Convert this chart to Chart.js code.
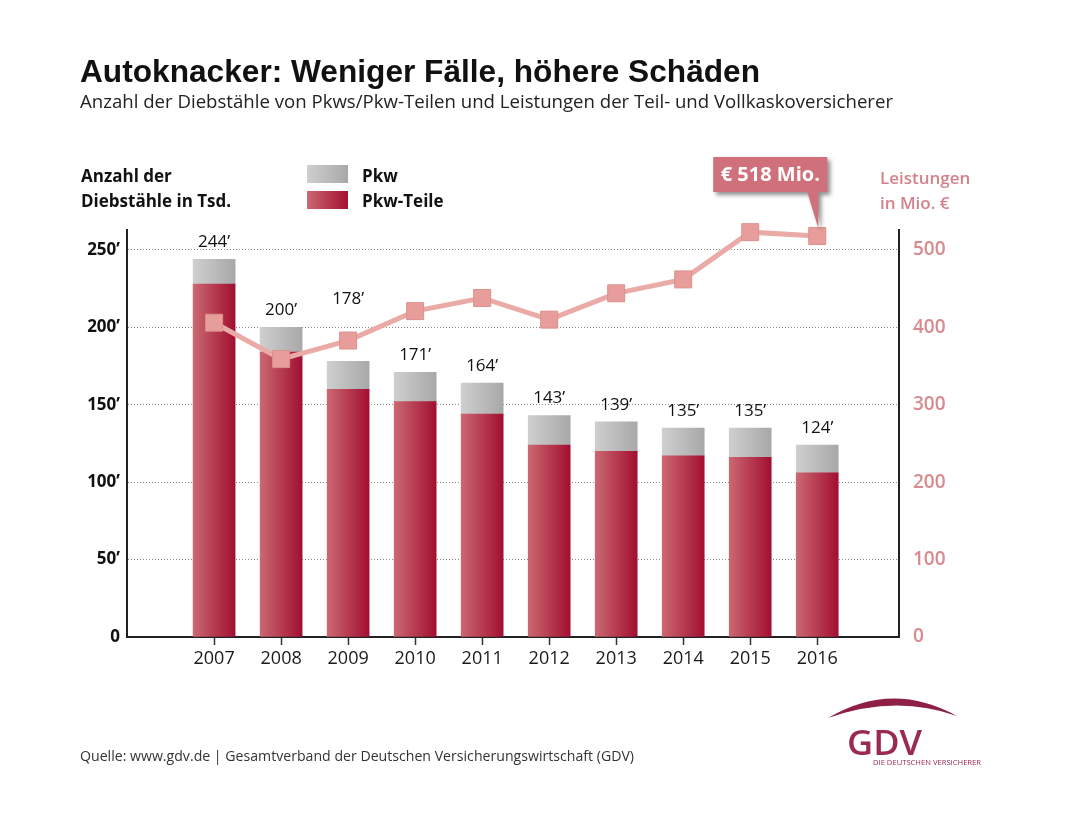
<!DOCTYPE html>
<html lang="de">
<head>
<meta charset="utf-8">
<script src="https://cdn.jsdelivr.net/npm/chart.js@4.4.1/dist/chart.umd.min.js"></script>
<style>
html,body{margin:0;padding:0;background:#fff;}
#wrap{position:relative;width:1068px;height:815px;overflow:hidden;font-family:"Open Sans",sans-serif;}
#c{position:absolute;left:0;top:0;}
.t{position:absolute;white-space:nowrap;transform-origin:0 0;}
.sw{position:absolute;width:41px;height:18px;}
</style>
</head>
<body>
<div id="wrap">
<canvas id="c" width="1068" height="815"></canvas>

<div class="t fit" data-w="680" style="left:80px;top:53px;font:bold 31.5px/36px 'Liberation Sans',Arial,sans-serif;color:#111;">Autoknacker: Weniger Fälle, höhere Schäden</div>
<div class="t fit" data-w="813" style="left:80px;top:89px;font:18px/24px 'Open Sans',sans-serif;color:#222;">Anzahl der Diebstähle von Pkws/Pkw-Teilen und Leistungen der Teil- und Vollkaskoversicherer</div>

<div class="t" style="left:81px;top:163px;font:bold 17px/25px 'Open Sans',sans-serif;color:#111;">Anzahl der<br>Diebstähle in Tsd.</div>

<div class="sw" style="left:307px;top:165px;background:linear-gradient(to right,#cfcfcf,#a8a8a8);"></div>
<div class="sw" style="left:307px;top:191px;background:linear-gradient(to right,#cb6871,#a20f31);"></div>
<div class="t" style="left:362px;top:163px;font:bold 17px/25px 'Open Sans',sans-serif;color:#111;">Pkw<br>Pkw-Teile</div>

<div class="t" style="left:880px;top:165px;font:600 17px/25px 'Open Sans',sans-serif;color:#d4828a;">Leistungen<br>in Mio. €</div>

<div class="t fit" data-w="554" style="left:80px;top:746px;font:14px/20px 'Open Sans',sans-serif;color:#333;">Quelle: www.gdv.de | Gesamtverband der Deutschen Versicherungswirtschaft (GDV)</div>

<svg style="position:absolute;left:0;top:0;" width="1068" height="815">
  <path d="M828,718 Q892,680 957,716 Q896,694 828,718 Z" fill="#8e1f45"/>
  <text x="847" y="755" font-family="Open Sans" font-weight="600" font-size="35" fill="#9a2a4f" textLength="75" lengthAdjust="spacingAndGlyphs">GDV</text>
  <text x="873" y="765" font-family="Open Sans" font-size="7.5" fill="#9a2a4f" textLength="108" lengthAdjust="spacingAndGlyphs">DIE DEUTSCHEN VERSICHERER</text>
</svg>
</div>

<script>
const years = [2007, 2008, 2009, 2010, 2011, 2012, 2013, 2014, 2015, 2016];
const pkwTeile = [228, 184, 160, 152, 144, 124, 120, 117, 116, 106];
const pkw = [16, 16, 18, 19, 20, 19, 19, 18, 19, 18];
const leistungen = [406, 359, 383, 421, 438, 410, 444, 462, 523, 518];
const leftTicks = [0, 50, 100, 150, 200, 250];
const rightTicks = [0, 100, 200, 300, 400, 500];
const calloutText = '€ 518 Mio.';

function barGrad(c0, c1) {
  return (ctx) => {
    const chart = ctx.chart;
    if (ctx.type !== 'data' || !chart.chartArea || !ctx.raw) return c1;
    const x = chart.scales.x.getPixelForValue(ctx.raw.x);
    const g = chart.ctx.createLinearGradient(x - 21, 0, x + 21, 0);
    g.addColorStop(0, c0);
    g.addColorStop(1, c1);
    return g;
  };
}

const overlay = {
  id: 'overlay',
  afterDatasetsDraw(chart) {
    const ctx = chart.ctx;
    const ys = chart.scales.y, xs = chart.scales.x;
    const lineMeta = chart.getDatasetMeta(0);
    ctx.save();
    ctx.font = '17px "Open Sans"';
    ctx.fillStyle = '#111';
    ctx.textAlign = 'center';
    ctx.textBaseline = 'middle';
    years.forEach((yr, i) => {
      const total = pkwTeile[i] + pkw[i];
      const x = xs.getPixelForValue(yr);
      let y = ys.getPixelForValue(total) - 17;
      const my = lineMeta.data[i].y;
      if (Math.abs(y - my) < 24) y = my - 41;
      ctx.fillText(total + '’', x, y);
    });
    const last = lineMeta.data[lineMeta.data.length - 1];
    const px = last.x, py = last.y;
    const L = px - 104, R = px + 10, T = py - 79, B = py - 44;
    ctx.save();
    ctx.shadowColor = 'rgba(50,50,50,0.55)';
    ctx.shadowBlur = 4;
    ctx.shadowOffsetX = 3;
    ctx.shadowOffsetY = 3;
    ctx.fillStyle = '#d0707a';
    ctx.beginPath();
    ctx.moveTo(L, T); ctx.lineTo(R, T); ctx.lineTo(R, B);
    ctx.lineTo(px + 1, B); ctx.lineTo(px + 1, py - 8); ctx.lineTo(px - 10, B);
    ctx.lineTo(L, B); ctx.closePath();
    ctx.fill();
    ctx.restore();
    ctx.font = 'bold 20px "Open Sans"';
    ctx.fillStyle = '#fff';
    ctx.textAlign = 'center';
    ctx.textBaseline = 'middle';
    ctx.fillText(calloutText, (L + R) / 2, (T + B) / 2 + 1);
    ctx.restore();
  }
};

function build() {
  new Chart(document.getElementById('c'), {
    type: 'bar',
    data: {
      datasets: [
        {
          type: 'line', label: 'Leistungen', yAxisID: 'y2', order: 0,
          data: years.map((y, i) => ({ x: y, y: leistungen[i] })),
          borderColor: '#eaaaa6', borderWidth: 5, tension: 0,
          pointStyle: 'rect', pointRadius: 12, pointHoverRadius: 12,
          pointBackgroundColor: '#e79e9b', pointBorderColor: '#dc8f8c', pointBorderWidth: 1,
          clip: false
        },
        {
          label: 'Pkw-Teile', yAxisID: 'y', stack: 's', order: 1,
          data: years.map((y, i) => ({ x: y, y: pkwTeile[i] })),
          backgroundColor: barGrad('#cb6871', '#a20f31'), barThickness: 42
        },
        {
          label: 'Pkw', yAxisID: 'y', stack: 's', order: 1,
          data: years.map((y, i) => ({ x: y, y: pkw[i] })),
          backgroundColor: barGrad('#cfcfcf', '#a8a8a8'), barThickness: 42
        }
      ]
    },
    options: {
      responsive: false, animation: false, devicePixelRatio: 1,
      layout: { padding: { top: 230, left: 0, right: 0, bottom: 0 } },
      plugins: { legend: { display: false }, tooltip: { enabled: false } },
      scales: {
        x: {
          type: 'linear', min: 2005.70, max: 2017.22, stacked: true, offset: false,
          afterBuildTicks: s => { s.ticks = years.map(v => ({ value: v })); },
          afterFit: s => { s.height = 178; },
          ticks: { callback: v => String(v), font: { family: 'Open Sans', size: 18 }, color: '#1a1a1a', padding: 3, autoSkip: false, maxRotation: 0 },
          grid: { display: true, offset: false, drawOnChartArea: false, drawTicks: true, tickLength: 8, tickColor: '#333', tickWidth: 1.5 },
          border: { display: true, color: '#222', width: 2 }
        },
        y: {
          type: 'linear', position: 'left', stacked: true, min: 0, max: 262.9,
          afterBuildTicks: s => { s.ticks = leftTicks.map(v => ({ value: v })); },
          afterFit: s => { s.width = 127; },
          ticks: { callback: v => v === 0 ? '0' : v + '’', font: { family: 'Open Sans', size: 17, weight: 'bold' }, color: '#111', padding: 7 },
          grid: { color: '#8a8a8a', lineWidth: 1, drawTicks: false },
          border: { display: true, color: '#222', width: 2, dash: [1, 2] }
        },
        y2: {
          type: 'linear', position: 'right', min: 0, max: 525.8,
          afterBuildTicks: s => { s.ticks = rightTicks.map(v => ({ value: v })); },
          afterFit: s => { s.width = 169; },
          ticks: { callback: v => String(v), font: { family: 'Open Sans', size: 19, weight: '600' }, color: '#d98a8f', padding: 14 },
          grid: { drawOnChartArea: false, drawTicks: false },
          border: { display: true, color: '#222', width: 2 }
        }
      }
    },
    plugins: [overlay]
  });
}

function fit() {
  document.querySelectorAll('.fit').forEach(el => {
    el.style.transform = 'none';
    const w = el.getBoundingClientRect().width;
    const target = parseFloat(el.dataset.w);
    if (w > 0) el.style.transform = 'scaleX(' + (target / w) + ')';
  });
}

fit();
build();
if (document.fonts && document.fonts.ready) document.fonts.ready.then(fit);
</script>
</body>
</html>
